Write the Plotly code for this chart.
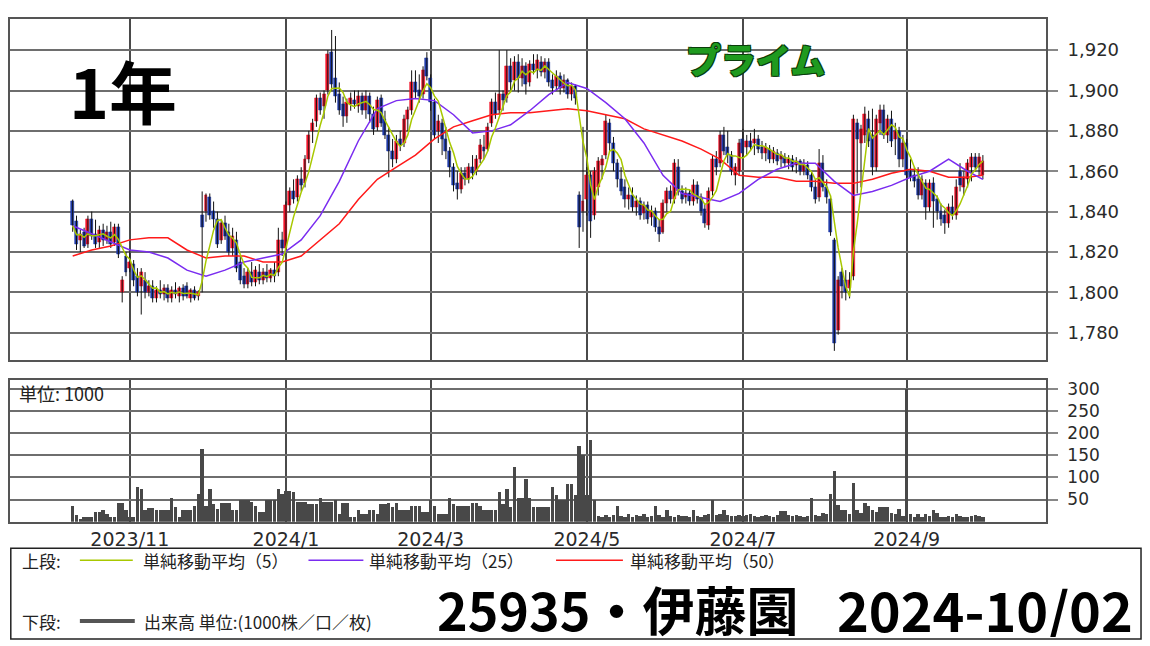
import pandas as pd
import numpy as np
import plotly.graph_objects as go

# page body has an 8px margin: the figure is sized to fill the rest of the window
OFF = 8
W, H = 1150 - OFF, 646 - OFF

# ---------------- data ----------------
start_date, end_date = "2023-10-11", "2024-10-02"
jp_holidays = ["2023-11-03", "2023-11-23", "2024-01-01", "2024-01-02", "2024-01-03",
               "2024-01-08", "2024-02-12", "2024-02-23", "2024-03-20", "2024-04-29",
               "2024-05-03", "2024-05-06", "2024-07-15", "2024-08-12", "2024-09-16",
               "2024-09-23"]

opens = [
    1845, 1835, 1826, 1830, 1824, 1836, 1829, 1825, 1831, 1826,
    1830, 1825, 1832, 1800, 1818, 1812, 1814, 1808, 1803, 1806,
    1800, 1803, 1797, 1801, 1799, 1802, 1797, 1801, 1798, 1802,
    1803, 1797, 1801, 1798, 1838, 1840, 1847, 1840, 1836, 1826,
    1834, 1830, 1822, 1826, 1815, 1808, 1804, 1810, 1805, 1810,
    1806, 1810, 1807, 1811, 1810, 1826, 1822, 1843, 1850, 1847,
    1856, 1854, 1866, 1880, 1885, 1896, 1892, 1900, 1919, 1906,
    1898, 1893, 1887, 1893, 1895, 1892, 1897, 1890, 1897, 1888,
    1882, 1896, 1886, 1878, 1870, 1866, 1876, 1874, 1886, 1890,
    1904, 1900, 1898, 1916, 1906, 1894, 1880, 1884, 1876, 1870,
    1862, 1854, 1851, 1859, 1856, 1862, 1860, 1866, 1872, 1871,
    1884, 1894, 1890, 1898, 1896, 1912, 1905, 1914, 1906, 1912,
    1904, 1913, 1910, 1914, 1909, 1914, 1905, 1902, 1907, 1901,
    1905, 1898, 1902, 1848, 1840, 1846, 1858, 1838, 1852, 1863,
    1868, 1884, 1874, 1864, 1856, 1852, 1846, 1848, 1842, 1845,
    1839, 1843, 1837, 1840, 1832, 1830, 1844, 1850, 1846, 1862,
    1850, 1847, 1849, 1845, 1853, 1847, 1841, 1833, 1850, 1866,
    1864, 1878, 1872, 1868, 1858, 1860, 1876, 1872, 1875, 1874,
    1876, 1872, 1869, 1871, 1866, 1869, 1866, 1867, 1864, 1866,
    1863, 1865, 1860, 1863, 1858, 1852, 1847, 1864, 1852, 1846,
    1826, 1781, 1810, 1806, 1802, 1808, 1884, 1874, 1878, 1886,
    1878, 1862, 1884, 1890, 1878, 1886, 1876, 1880, 1866, 1874,
    1860, 1858, 1856, 1848, 1854, 1842, 1854, 1846, 1840, 1838,
    1834, 1842, 1838, 1860, 1852, 1856, 1862, 1867, 1862, 1858,
]
highs = [
    1846, 1838, 1831, 1832, 1838, 1840, 1836, 1833, 1834, 1833,
    1835, 1834, 1834, 1808, 1820, 1821, 1816, 1812, 1812, 1810,
    1806, 1806, 1803, 1806, 1804, 1804, 1803, 1805, 1803, 1804,
    1805, 1802, 1803, 1801, 1850, 1849, 1849, 1845, 1840, 1836,
    1838, 1834, 1832, 1830, 1818, 1812, 1812, 1815, 1813, 1814,
    1812, 1814, 1812, 1815, 1832, 1830, 1845, 1852, 1856, 1858,
    1862, 1868, 1880, 1886, 1898, 1899, 1900, 1920, 1930, 1927,
    1904, 1897, 1896, 1899, 1900, 1900, 1899, 1900, 1899, 1892,
    1897, 1898, 1890, 1882, 1876, 1878, 1880, 1888, 1892, 1910,
    1910, 1908, 1912, 1919, 1908, 1896, 1888, 1886, 1882, 1872,
    1864, 1860, 1862, 1862, 1864, 1868, 1868, 1876, 1878, 1884,
    1896, 1899, 1920, 1900, 1920, 1916, 1917, 1918, 1916, 1914,
    1915, 1918, 1918, 1917, 1916, 1916, 1908, 1910, 1909, 1908,
    1906, 1904, 1903, 1850, 1882, 1862, 1860, 1862, 1867, 1868,
    1888, 1886, 1877, 1866, 1862, 1856, 1852, 1852, 1848, 1847,
    1845, 1845, 1843, 1842, 1836, 1846, 1852, 1853, 1866, 1866,
    1853, 1852, 1851, 1856, 1855, 1849, 1844, 1852, 1868, 1870,
    1880, 1882, 1880, 1870, 1864, 1876, 1881, 1878, 1879, 1881,
    1878, 1875, 1874, 1873, 1872, 1871, 1870, 1869, 1868, 1868,
    1867, 1866, 1866, 1865, 1860, 1856, 1871, 1868, 1856, 1848,
    1827, 1808, 1812, 1811, 1810, 1888, 1886, 1883, 1892, 1890,
    1891, 1888, 1893, 1893, 1888, 1890, 1884, 1882, 1878, 1876,
    1866, 1862, 1862, 1858, 1856, 1856, 1857, 1848, 1844, 1841,
    1844, 1848, 1856, 1864, 1860, 1866, 1869, 1869, 1869, 1868,
]
lows = [
    1830, 1821, 1820, 1822, 1822, 1826, 1822, 1822, 1823, 1824,
    1822, 1823, 1817, 1795, 1808, 1810, 1803, 1798, 1789, 1797,
    1798, 1795, 1795, 1797, 1796, 1795, 1795, 1797, 1795, 1796,
    1797, 1795, 1796, 1796, 1800, 1835, 1836, 1832, 1822, 1824,
    1826, 1818, 1818, 1810, 1804, 1802, 1802, 1803, 1803, 1804,
    1804, 1805, 1805, 1805, 1808, 1818, 1820, 1840, 1844, 1845,
    1850, 1852, 1864, 1874, 1882, 1888, 1886, 1898, 1900, 1894,
    1888, 1882, 1884, 1890, 1891, 1889, 1888, 1886, 1884, 1878,
    1880, 1882, 1876, 1857, 1862, 1864, 1870, 1872, 1880, 1888,
    1896, 1894, 1896, 1905, 1890, 1876, 1874, 1868, 1866, 1857,
    1850, 1846, 1849, 1853, 1854, 1856, 1858, 1864, 1866, 1870,
    1882, 1886, 1888, 1890, 1894, 1900, 1900, 1899, 1902, 1898,
    1902, 1908, 1906, 1907, 1906, 1902, 1898, 1900, 1898, 1899,
    1896, 1895, 1893, 1822, 1830, 1838, 1827, 1836, 1848, 1856,
    1866, 1870, 1860, 1852, 1848, 1842, 1841, 1840, 1838, 1836,
    1836, 1834, 1833, 1830, 1825, 1829, 1840, 1844, 1844, 1848,
    1844, 1844, 1843, 1843, 1844, 1838, 1832, 1831, 1848, 1858,
    1862, 1868, 1864, 1858, 1853, 1858, 1866, 1868, 1870, 1868,
    1869, 1866, 1865, 1864, 1864, 1863, 1862, 1862, 1861, 1860,
    1859, 1858, 1858, 1856, 1850, 1844, 1845, 1850, 1844, 1828,
    1771, 1779, 1797, 1796, 1797, 1806, 1849, 1852, 1874, 1872,
    1858, 1860, 1878, 1876, 1874, 1872, 1868, 1862, 1862, 1856,
    1855, 1852, 1846, 1846, 1836, 1840, 1832, 1836, 1833, 1829,
    1832, 1836, 1836, 1850, 1848, 1852, 1855, 1860, 1858, 1856,
]
closes = [
    1833, 1824, 1829, 1823, 1836, 1828, 1824, 1831, 1826, 1830,
    1824, 1832, 1819, 1806, 1810, 1815, 1806, 1800, 1810, 1800,
    1803, 1797, 1801, 1799, 1802, 1797, 1801, 1799, 1802, 1798,
    1798, 1801, 1797, 1800, 1832, 1848, 1838, 1836, 1824, 1834,
    1828, 1820, 1828, 1812, 1806, 1804, 1810, 1805, 1811, 1806,
    1810, 1807, 1811, 1808, 1826, 1822, 1843, 1850, 1846, 1856,
    1853, 1866, 1878, 1884, 1896, 1890, 1898, 1918, 1903, 1897,
    1890, 1887, 1894, 1896, 1893, 1897, 1890, 1897, 1888, 1881,
    1895, 1884, 1878, 1870, 1866, 1875, 1873, 1886, 1890, 1904,
    1899, 1897, 1910, 1907, 1894, 1878, 1885, 1876, 1870, 1862,
    1853, 1851, 1859, 1856, 1862, 1859, 1866, 1873, 1870, 1882,
    1894, 1888, 1898, 1895, 1912, 1904, 1914, 1906, 1912, 1903,
    1913, 1910, 1915, 1909, 1914, 1904, 1901, 1907, 1901, 1905,
    1898, 1902, 1896, 1832, 1845, 1858, 1835, 1860, 1865, 1866,
    1885, 1874, 1864, 1856, 1850, 1846, 1848, 1842, 1845, 1838,
    1843, 1836, 1840, 1832, 1829, 1844, 1850, 1846, 1864, 1850,
    1846, 1849, 1845, 1853, 1846, 1840, 1834, 1850, 1866, 1862,
    1878, 1870, 1868, 1860, 1862, 1874, 1869, 1875, 1872, 1876,
    1871, 1869, 1872, 1866, 1870, 1865, 1868, 1864, 1866, 1862,
    1865, 1860, 1864, 1858, 1852, 1846, 1864, 1852, 1847, 1830,
    1775, 1806, 1803, 1800, 1806, 1886, 1876, 1881, 1888, 1875,
    1862, 1886, 1890, 1878, 1886, 1875, 1880, 1866, 1874, 1858,
    1857, 1855, 1848, 1856, 1842, 1854, 1845, 1840, 1836, 1834,
    1842, 1838, 1852, 1853, 1857, 1864, 1867, 1862, 1867, 1865,
]
volumes = [
    35, 15, 7, 11, 11, 12, 22, 22, 26, 17,
    11, 11, 43, 43, 26, 12, 12, 79, 75, 26,
    31, 31, 26, 26, 26, 26, 55, 33, 11, 26,
    26, 26, 35, 62, 165, 37, 75, 41, 30, 43,
    43, 43, 26, 26, 50, 49, 49, 45, 37, 22,
    22, 49, 49, 49, 75, 62, 70, 70, 68, 45,
    45, 45, 41, 41, 41, 55, 45, 45, 45, 50,
    19, 43, 43, 11, 11, 26, 19, 19, 26, 26,
    19, 41, 41, 43, 34, 43, 26, 26, 26, 35,
    35, 35, 22, 22, 49, 35, 17, 17, 17, 55,
    41, 35, 35, 35, 35, 43, 43, 37, 26, 26,
    26, 26, 68, 40, 75, 34, 124, 55, 55, 98,
    53, 34, 34, 34, 34, 34, 79, 60, 49, 49,
    86, 86, 60, 172, 150, 60, 184, 49, 14, 12,
    16, 12, 15, 35, 14, 12, 18, 12, 15, 13,
    18, 12, 14, 35, 16, 12, 26, 14, 12, 16,
    13, 14, 12, 26, 13, 12, 15, 18, 49, 15,
    18, 26, 16, 14, 13, 15, 14, 16, 17, 14,
    12, 13, 15, 14, 12, 16, 24, 24, 16, 14,
    15, 13, 12, 14, 55, 16, 14, 20, 18, 62,
    116, 39, 26, 26, 18, 88, 26, 20, 43, 37,
    28, 22, 34, 34, 34, 20, 18, 30, 14, 300,
    17, 12, 19, 12, 19, 14, 26, 20, 12, 11,
    14, 12, 19, 13, 11, 12, 13, 15, 14, 12,
]
# 25/50-day moving averages every 5 sessions (plus last session)
ma25_read = [1833, 1829, 1825, 1821, 1820, 1817, 1811, 1808, 1811, 1815,
             1817, 1819, 1826, 1838, 1855, 1875, 1891, 1895, 1896, 1895,
             1888, 1879, 1880, 1883, 1890, 1898, 1904, 1901, 1894, 1886,
             1874, 1858, 1849, 1847, 1845, 1849, 1856, 1861, 1864, 1864,
             1855, 1848, 1850, 1853, 1857, 1860, 1866, 1860, 1856]
ma50_read = [1818, 1821, 1823, 1826, 1827, 1827, 1821, 1817, 1818, 1818,
             1815, 1815, 1818, 1826, 1834, 1846, 1856, 1862, 1868, 1876,
             1882, 1885, 1888, 1889, 1889, 1890, 1891, 1890, 1888, 1886,
             1881, 1878, 1875, 1871, 1866, 1858, 1857, 1857, 1855, 1855,
             1854, 1854, 1856, 1859, 1861, 1860, 1857, 1857, 1858]
price_ticks = [1780, 1800, 1820, 1840, 1860, 1880, 1900, 1920]
volume_ticks = [50, 100, 150, 200, 250, 300]

# ---------------- derived ----------------
n = len(closes)
xs = list(range(n))
dates = pd.bdate_range(start_date, end_date)
dates = dates[~dates.isin(pd.to_datetime(jp_holidays))][:n]
month_pos, month_txt = [], []
for i in range(1, len(dates)):
    d = dates[i]
    if d.month != dates[i - 1].month and d.month % 2 == 1:
        month_pos.append(i)
        month_txt.append(f"{d.year}/{d.month}")

ma5 = pd.Series(closes, dtype=float).rolling(5, min_periods=1).mean().tolist()
ma_x = list(range(0, n, 5)) + [n - 1]


def px(x):
    return (x - OFF) / W


def py(y):
    return 1 - (y - OFF) / H


# ---------------- figure ----------------
fig = go.Figure()

wx, wy = [], []
for i in xs:
    wx += [i, i, None]
    wy += [lows[i], highs[i], None]
fig.add_trace(go.Scatter(x=wx, y=wy, mode="lines", line=dict(color="#111111", width=1),
                         hoverinfo="skip", xaxis="x", yaxis="y"))

up = [i for i in xs if closes[i] >= opens[i]]
dn = [i for i in xs if closes[i] < opens[i]]
UP_C, DN_C = "#f0142a", "#1f3aa8"
fig.add_trace(go.Bar(x=up, y=[closes[i] - opens[i] for i in up], base=[opens[i] for i in up],
                     width=0.78, marker=dict(color=UP_C, line=dict(color=UP_C, width=0.6)),
                     xaxis="x", yaxis="y"))
fig.add_trace(go.Bar(x=dn, y=[opens[i] - closes[i] for i in dn], base=[closes[i] for i in dn],
                     width=0.78, marker=dict(color=DN_C, line=dict(color=DN_C, width=0.6)),
                     xaxis="x", yaxis="y"))

MA5_C, MA25_C, MA50_C = "#a8c800", "#7a2cf0", "#ff1a1a"
fig.add_trace(go.Scatter(x=ma_x, y=ma50_read, mode="lines", line=dict(color=MA50_C, width=1.5),
                         xaxis="x", yaxis="y"))
fig.add_trace(go.Scatter(x=ma_x, y=ma25_read, mode="lines", line=dict(color=MA25_C, width=1.5),
                         xaxis="x", yaxis="y"))
fig.add_trace(go.Scatter(x=xs, y=ma5, mode="lines", line=dict(color=MA5_C, width=1.5),
                         xaxis="x", yaxis="y"))

fig.add_trace(go.Bar(x=xs, y=volumes, width=0.9, marker=dict(color="#484848", line=dict(width=0)),
                     xaxis="x2", yaxis="y2"))

# plot area spans page x 8..1046; one session = 3.815 px, first session at x = 70.8
xdom = [px(8), px(1046)]
xr = [(8 - 70.8) / 3.815, (1046 - 70.8) / 3.815]
grid_c = "#6e6e6e"
line_c = "#555555"
tick_font = dict(family="DejaVu Sans", size=18, color="#2a2a2a")

fig.update_layout(
    width=W, height=H, margin=dict(l=0, r=0, t=0, b=0),
    paper_bgcolor="white", plot_bgcolor="white", showlegend=False, barmode="overlay",
    bargap=0,
    xaxis=dict(domain=xdom, range=xr, anchor="y", tickvals=month_pos, showticklabels=False,
               ticks="", showgrid=True, gridcolor="#4a4a4a", gridwidth=1.5, zeroline=False,
               showline=True, mirror=True, linecolor=line_c, linewidth=1.5),
    yaxis=dict(domain=[py(359.3), py(18.3)], range=[1766.6, 1935.3], anchor="x",
               side="right", tickvals=price_ticks, tickformat=",d", ticks="outside",
               ticklen=10, tickwidth=1.5, tickcolor="#888888", ticklabelstandoff=6,
               showgrid=True, gridcolor=grid_c, gridwidth=1.5, zeroline=False,
               showline=True, mirror=True, linecolor=line_c, linewidth=1.5, tickfont=tick_font),
    xaxis2=dict(domain=xdom, range=xr, anchor="y2", tickvals=month_pos, ticktext=month_txt,
                ticks="", showgrid=True, gridcolor="#4a4a4a", gridwidth=1.5, zeroline=False,
                showline=True, mirror=True, linecolor=line_c, linewidth=1.5,
                tickfont=dict(family="DejaVu Sans", size=19, color="#2a2a2a")),
    yaxis2=dict(domain=[py(521.5), py(379.3)], range=[0, 320.3], anchor="x2",
                side="right", tickvals=volume_ticks, ticks="outside", ticklen=10, tickwidth=1.5,
                tickcolor="#888888", ticklabelstandoff=6, showgrid=True, gridcolor=grid_c,
                gridwidth=1.5, zeroline=False, showline=True, mirror=True, linecolor=line_c,
                linewidth=1.5, tickfont=dict(family="DejaVu Sans", size=17, color="#2a2a2a")),
)

JP = "Noto Sans CJK JP"
TXT = "#222222"
anns = [
    dict(text="1年", x=px(121), y=py(89), xanchor="center", yanchor="middle",
         font=dict(family=JP, size=68, color="#000000", weight="bold")),
    dict(text="プライム", x=px(755), y=py(58), xanchor="center", yanchor="middle",
         font=dict(family=JP, size=35, color="#1f9a1f", weight=900,
                   shadow="-1px -1px 0 #0b3d0b, 1px -1px 0 #0b3d0b, -1px 1px 0 #0b3d0b, 1px 1px 0 #0b3d0b")),
    dict(text="単位: 1000", x=px(15), y=py(393), xanchor="left", yanchor="middle",
         font=dict(family=JP, size=18, color=TXT)),
    dict(text="上段:", x=px(18), y=py(560), xanchor="left", yanchor="middle",
         font=dict(family=JP, size=17, color=TXT)),
    dict(text="単純移動平均（5）", x=px(139), y=py(560), xanchor="left", yanchor="middle",
         font=dict(family=JP, size=17, color=TXT)),
    dict(text="単純移動平均（25）", x=px(366), y=py(560), xanchor="left", yanchor="middle",
         font=dict(family=JP, size=17, color=TXT)),
    dict(text="単純移動平均（50）", x=px(627), y=py(560), xanchor="left", yanchor="middle",
         font=dict(family=JP, size=17, color=TXT)),
    dict(text="下段:", x=px(18), y=py(621), xanchor="left", yanchor="middle",
         font=dict(family=JP, size=17, color=TXT)),
    dict(text="出来高 単位:(1000株／口／枚)", x=px(140), y=py(621), xanchor="left", yanchor="middle",
         font=dict(family=JP, size=17, color=TXT)),
    dict(text="25935・伊藤園", x=px(617), y=py(608), xanchor="center", yanchor="middle",
         height=58, font=dict(family=JP, size=52, color="#000000", weight="bold")),
    dict(text="2024-10/02", x=px(985), y=py(608), xanchor="center", yanchor="middle",
         height=58, font=dict(family=JP, size=54, color="#000000", weight="bold")),
]
for a in anns:
    a.update(xref="paper", yref="paper", showarrow=False)
fig.update_layout(annotations=anns)

shapes = [
    dict(type="rect", x0=px(8.8), x1=px(1141), y0=py(548), y1=py(639),
         line=dict(color="#222222", width=1.5)),
    dict(type="line", x0=px(78), x1=px(131), y0=py(560), y1=py(560), line=dict(color=MA5_C, width=1.5)),
    dict(type="line", x0=px(307), x1=px(362), y0=py(560), y1=py(560), line=dict(color=MA25_C, width=1.5)),
    dict(type="line", x0=px(555), x1=px(622), y0=py(560), y1=py(560), line=dict(color=MA50_C, width=1.5)),
    dict(type="line", x0=px(78), x1=px(133), y0=py(621), y1=py(621), line=dict(color="#555555", width=4)),
]
for s in shapes:
    s.update(xref="paper", yref="paper")
fig.update_layout(shapes=shapes)

fig.write_html("out.html")
